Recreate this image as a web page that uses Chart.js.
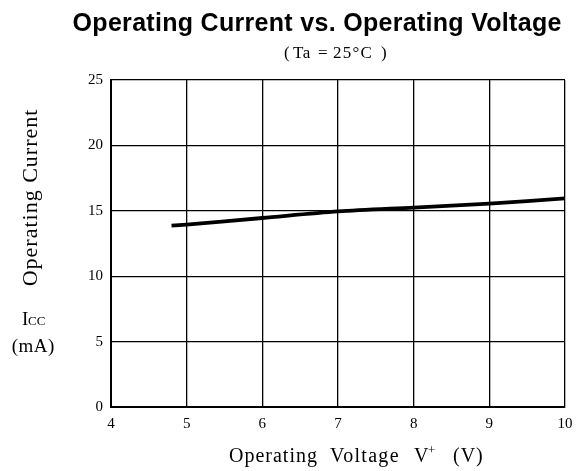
<!DOCTYPE html>
<html lang="en">
<head>
    <meta charset="UTF-8">
    <title>Operating Current vs. Operating Voltage</title>
    <script src="https://cdn.jsdelivr.net/npm/chart.js"></script>
    <style>
        body {
            margin: 0;
            background-color: #fff;
        }
        .wrap {
            width: 581px;
            height: 471px;
        }
    </style>
</head>
<body>
    <div class="wrap">
        <canvas id="myChart" width="581" height="471"></canvas>
    </div>

    <script>
        // values
        const voltage = [4.8, 5, 6, 7, 8, 9, 10];
        const current = [13.86, 13.95, 14.45, 14.95, 15.25, 15.55, 15.95];
        const xTicks = [4, 5, 6, 7, 8, 9, 10];
        const yTicks = [0, 5, 10, 15, 20, 25];

        const serif = '"Liberation Serif", "DejaVu Serif", serif';

        // small helper, canvas letterSpacing leaves a trailing gap so shift by half of it
        function spaced(ctx, text, x, y, spacing) {
            ctx.letterSpacing = spacing + 'px';
            let dx = 0;
            if (ctx.textAlign === 'center') dx = spacing / 2;
            ctx.fillText(text, x + dx, y);
            ctx.letterSpacing = '0px';
        }

        // draws titles and axis labels where the reference has them
        const labelPlugin = {
            id: 'labels',
            afterDraw(chart) {
                const ctx = chart.ctx;
                ctx.save();
                ctx.fillStyle = '#000';
                ctx.textBaseline = 'alphabetic';
                ctx.textAlign = 'center';

                ctx.font = 'bold 25px "Liberation Sans", Arial, sans-serif';
                spaced(ctx, 'Operating Current vs. Operating Voltage', 317, 31, 0.3);

                // subtitle (Ta=25°C), pieces spread like the scan
                ctx.textAlign = 'left';
                ctx.font = '17px ' + serif;
                ctx.fillText('(', 284, 58);
                spaced(ctx, 'Ta', 293, 58, 0.5);
                ctx.fillText('=', 318, 58);
                spaced(ctx, '25°C', 333, 58, 1.2);
                ctx.fillText(')', 381, 58);

                // x title, words placed like the reference spacing
                ctx.font = '20px ' + serif;
                spaced(ctx, 'Operating', 229, 462, 1);
                spaced(ctx, 'Voltage', 330, 462, 1.3);
                ctx.fillText('V', 414, 462);
                ctx.font = '13px ' + serif;
                ctx.fillText('+', 428, 454);
                ctx.font = '20px ' + serif;
                spaced(ctx, '(V)', 453, 462, 1);

                // rotated y title
                ctx.save();
                ctx.translate(37, 198);
                ctx.rotate(-Math.PI / 2);
                ctx.textAlign = 'center';
                ctx.font = '22px ' + serif;
                spaced(ctx, 'Operating Current', 0, 0, 1);
                ctx.restore();

                // I with small CC
                ctx.textAlign = 'left';
                ctx.font = '19px ' + serif;
                ctx.fillText('I', 22, 325);
                ctx.font = '13px ' + serif;
                ctx.fillText('CC', 28, 325);

                ctx.textAlign = 'center';
                ctx.font = '19px ' + serif;
                spaced(ctx, '(mA)', 33, 352, 0.5);
                ctx.restore();
            }
        };

        const ctx = document.getElementById('myChart').getContext('2d');
        const myChart = new Chart(ctx, {
            type: 'line',
            data: {
                datasets: [{
                    data: voltage.map((v, i) => ({ x: v, y: current[i] })),
                    borderColor: '#000',
                    borderWidth: 3.8,
                    pointRadius: 0,
                    tension: 0.3,
                    fill: false
                }]
            },
            options: {
                responsive: false,
                animation: false,
                layout: {
                    padding: { left: 71, right: 16, top: 80, bottom: 0 }
                },
                plugins: {
                    legend: { display: false },
                    tooltip: { enabled: false }
                },
                scales: {
                    x: {
                        type: 'linear',
                        min: 4,
                        max: 10,
                        afterBuildTicks: (s) => { s.ticks = xTicks.map(v => ({ value: v })); },
                        afterFit: (s) => { s.height = 64; },
                        grid: { color: '#000', lineWidth: 1.3, drawTicks: false },
                        border: { color: '#000', width: 2 },
                        ticks: {
                            color: '#000',
                            padding: 8,
                            font: { family: serif, size: 15 }
                        }
                    },
                    y: {
                        min: 0,
                        max: 25,
                        afterBuildTicks: (s) => { s.ticks = yTicks.map(v => ({ value: v })); },
                        afterFit: (s) => { s.width = 40; },
                        grid: { color: '#000', lineWidth: 1.3, drawTicks: false },
                        border: { color: '#000', width: 2 },
                        ticks: {
                            color: '#000',
                            padding: 8,
                            font: { family: serif, size: 15 }
                        }
                    }
                }
            },
            plugins: [labelPlugin]
        });
    </script>
</body>
</html>
